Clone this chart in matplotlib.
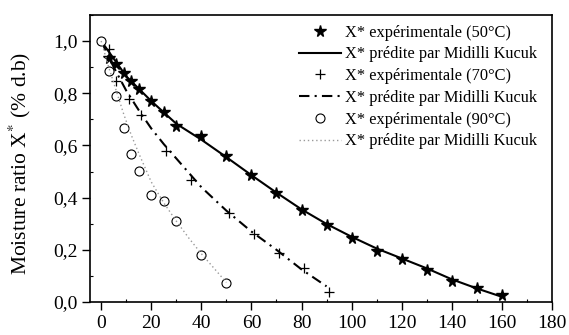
import matplotlib
matplotlib.use("Agg")
import matplotlib.pyplot as plt
from matplotlib.ticker import MultipleLocator

plt.rcParams['font.family'] = ['Liberation Serif', 'DejaVu Serif']
plt.rcParams['mathtext.fontset'] = 'stix'

# 50 °C
t50 = [3, 6, 9, 12, 15, 20, 25, 30, 40, 50, 60, 70, 80, 90, 100, 110, 120, 130, 140, 150, 160]
x50 = [0.935, 0.911, 0.879, 0.847, 0.818, 0.769, 0.727, 0.676, 0.636, 0.560, 0.487, 0.418,
       0.352, 0.295, 0.246, 0.196, 0.165, 0.122, 0.080, 0.052, 0.027]
t50_fit = [0, 10, 20, 30, 40, 50, 60, 70, 80, 90, 100, 110, 120, 130, 140, 150, 160]
x50_fit = [1.0, 0.865, 0.77, 0.683, 0.622, 0.555, 0.486, 0.419, 0.355, 0.299, 0.250,
           0.205, 0.167, 0.129, 0.087, 0.052, 0.020]

# 70 °C
t70 = [3, 6, 11, 16, 26, 36, 51, 61, 71, 81, 91]
x70 = [0.969, 0.848, 0.778, 0.716, 0.579, 0.469, 0.342, 0.261, 0.188, 0.129, 0.040]
t70_fit = [0, 5, 10, 15, 20, 25, 30, 40, 50, 60, 70, 80, 90]
x70_fit = [1.0, 0.90, 0.81, 0.735, 0.665, 0.605, 0.55, 0.44, 0.35, 0.27, 0.20, 0.125, 0.06]

# 90 °C
t90 = [0, 3, 6, 9, 12, 15, 20, 25, 30, 40, 50]
x90 = [1.0, 0.885, 0.788, 0.665, 0.566, 0.502, 0.410, 0.388, 0.311, 0.180, 0.074]
t90_fit = [0, 3, 6, 9, 12, 15, 20, 25, 30, 35, 40, 45, 50]
x90_fit = [1.0, 0.90, 0.81, 0.72, 0.64, 0.57, 0.46, 0.38, 0.31, 0.245, 0.185, 0.13, 0.075]

xticks = [0, 20, 40, 60, 80, 100, 120, 140, 160, 180]
yticks = [0.0, 0.2, 0.4, 0.6, 0.8, 1.0]
ytick_labels = ['0,0', '0,2', '0,4', '0,6', '0,8', '1,0']

label_exp = ['X* expérimentale (50°C)', 'X* expérimentale (70°C)', 'X* expérimentale (90°C)']
label_fit = 'X* prédite par Midilli Kucuk'

fig = plt.figure(figsize=(5.69, 3.35), dpi=100)
ax = fig.add_axes([0.158, 0.0985, 0.812, 0.857])

ax.plot(t50, x50, linestyle='none', marker='*', markersize=8.5, color='black', label=label_exp[0])
ax.plot(t50_fit, x50_fit, '-', color='black', lw=1.5, label=label_fit)
ax.plot(t70, x70, linestyle='none', marker='+', markersize=7, mew=0.9, color='black', label=label_exp[1])
ax.plot(t70_fit, x70_fit, color='black', lw=1.5, dashes=(5, 2.5, 1, 2.5), label=label_fit)
ax.plot(t90, x90, linestyle='none', marker='o', markersize=6.5, mfc='white', mec='black', mew=0.8, label=label_exp[2])
ax.plot(t90_fit, x90_fit, color='#9a9a9a', lw=1.0, linestyle=(0, (1, 2)), label=label_fit)

ax.set_xlim(-4.5, 180)
ax.set_ylim(0, 1.1)
ax.set_xticks(xticks)
ax.set_yticks(yticks)
ax.set_yticklabels(ytick_labels)
ax.xaxis.set_minor_locator(MultipleLocator(10))
ax.yaxis.set_minor_locator(MultipleLocator(0.1))
ax.tick_params(which='major', direction='out', length=6, width=1, labelsize=14, pad=3,
               top=False, right=False)
ax.tick_params(which='minor', direction='in', length=2, width=0.8, top=False, right=False)
for s in ax.spines.values():
    s.set_linewidth(1.2)

ax.set_ylabel('Moisture ratio X$^{*}$ (% d.b)', fontsize=15.5)
ax.yaxis.set_label_coords(-0.123, 0.483)

leg = ax.legend(loc='upper right', bbox_to_anchor=(0.989, 1.0), frameon=False,
                fontsize=11.8, handlelength=2.55, handletextpad=0.25, labelspacing=0.35,
                borderaxespad=0.2)

fig.savefig('out.png', dpi=100)
